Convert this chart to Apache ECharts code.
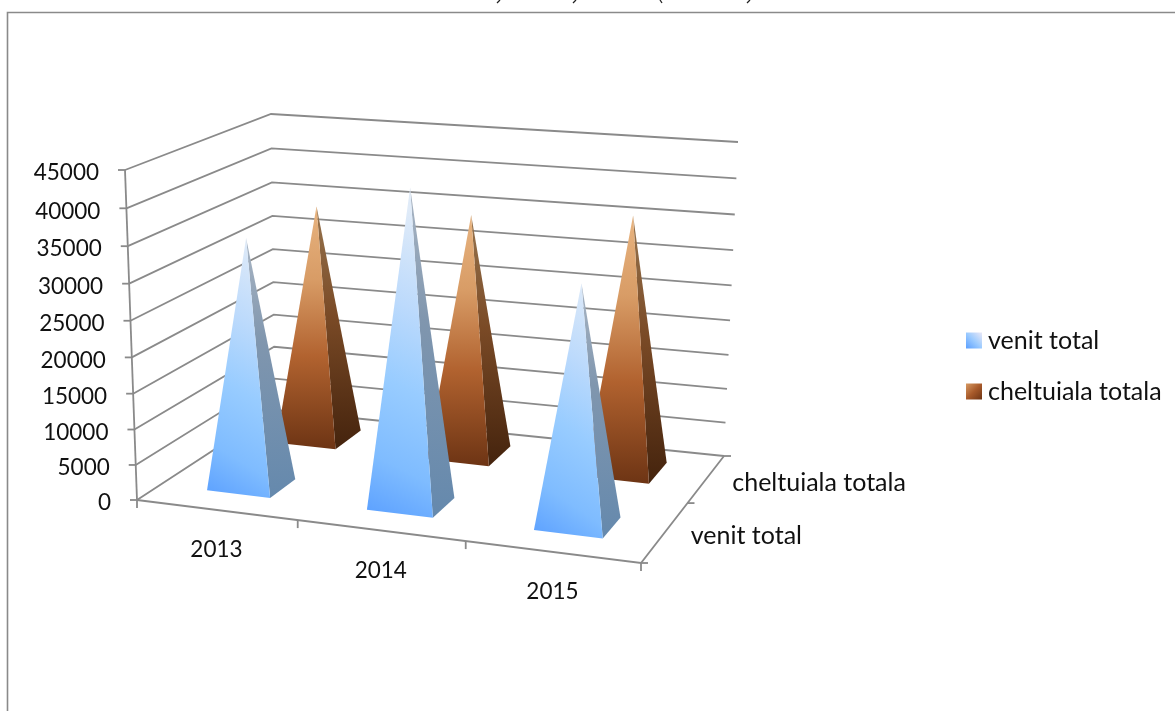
<!DOCTYPE html>
<html><head><meta charset="utf-8">
<style>html,body{margin:0;padding:0;background:#fff}#c{width:1175px;height:711px}</style>
<script src="https://cdn.jsdelivr.net/npm/echarts@6/dist/echarts.min.js"></script>
</head><body><div id="c"></div>
<script>
const years = ['2013', '2014', '2015'];
const depthNames = ['venit total', 'cheltuiala totala'];
const venitTotal = [34700, 43200, 32600];
const cheltuialaTotala = [34300, 34700, 36300];
const yTicks = [0, 5000, 10000, 15000, 20000, 25000, 30000, 35000, 40000, 45000];

const FONT = 'Lato, "Open Sans", sans-serif';
const LINE = '#8a8a8a';
const TXT = '#111';
const DEPTH_CENTRES = [0.27, 0.79];
// box corners of the 3D view: [u][d] floor and top
const F00 = [137, 500], F10 = [641, 563], F01 = [275, 410], F11 = [724, 456];
const T00 = [125, 170], T10 = [648, 213], T01 = [271, 114], T11 = [738, 142];
function mix(a, b, t) { return [a[0] + (b[0] - a[0]) * t, a[1] + (b[1] - a[1]) * t]; }
function project(u0, d, h) {
  const u = u0 * (0.935 + 0.065 * u0);
  const hh = h * (0.95 + 0.05 * h);
  const floor = mix(mix(F00, F10, u), mix(F01, F11, u), d);
  const top = mix(mix(T00, T10, u), mix(T01, T11, u), d);
  return mix(floor, top, hh);
}
function norm(api, cs, cat, val) {
  const p = api.coord([cat, val]);
  return [(p[0] - cs.x) / cs.width, 1 - (p[1] - cs.y) / cs.height];
}
function grad(x1, y1, x2, y2, stops) {
  return new echarts.graphic.LinearGradient(x1, y1, x2, y2, stops.map(c => ({ offset: c[0], color: c[1] })));
}
const lineStyle = { stroke: LINE, lineWidth: 1.8, fill: null };
function polyline(pts) { return { type: 'polyline', shape: { points: pts }, style: lineStyle, silent: true }; }
function label(text, x, y, align, size) {
  return { type: 'text', silent: true, style: { text, x, y, fill: TXT, font: size + 'px ' + FONT, textAlign: align, textVerticalAlign: 'middle' } };
}

const pal = [
  { front: grad(0, 1, 2, 0.2, [[0, '#5a9fff'], [0.2, '#7fbcff'], [0.45, '#98ccff'], [0.7, '#bcdafc'], [1, '#e0ebf8']]),
    side: grad(0, 0, 0.3, 1, [[0, '#aab6c4'], [0.4, '#8096ae'], [1, '#6589ad']]),
    legend: grad(0, 1, 1, 0, [[0, '#5a9fff'], [0.5, '#9ccbff'], [1, '#eae8f6']]) },
  { front: grad(0, 0, 0, 1, [[0, '#e8b480'], [0.3, '#d89c66'], [0.62, '#b1622f'], [1, '#6d3414']]),
    side: grad(0, 0, 0, 1, [[0, '#97754f'], [0.45, '#7a4a26'], [1, '#44230d']]),
    legend: grad(0, 0, 1, 1, [[0, '#d79a63'], [0.5, '#a85a2a'], [1, '#6d3414']]) }
];

function pyramidRender(j) {
  return function (params, api) {
    const cs = params.coordSys;
    const [u, h] = norm(api, cs, api.value(0), api.value(1));
    const du = api.size([1, 0])[0] / cs.width * 0.2;
    const dc = DEPTH_CENTRES[j], dd = 0.1;
    const fl = project(u - du, dc - dd, 0), fr = project(u + du, dc - dd, 0), br = project(u + du, dc + dd, 0);
    const apex = project(u, dc, h);
    return { type: 'group', children: [
      { type: 'polygon', shape: { points: [fr, br, apex] }, style: { fill: pal[j].side } },
      { type: 'polygon', shape: { points: [fl, fr, apex] }, style: { fill: pal[j].front } }
    ] };
  };
}

function wallRender(params, api) {
  const cs = params.coordSys;
  const v = api.value(0);
  const h = norm(api, cs, 0, v)[1];
  const a = project(0, 0, h), b = project(0, 1, h), c = project(1, 1, h);
  const kids = [polyline([a, b, c]), polyline([[a[0] - 7, a[1]], a]), label(String(v), a[0] - 26, a[1] + 3, 'right', 22.5)];
  if (v === 0) {
    const fr = project(1, 0, 0);
    const top = project(0, 0, 1);
    kids.push(polyline([a, top]), polyline([a, fr, c]));
    kids.push(polyline([a, [a[0], a[1] + 8]]), polyline([fr, [fr[0], fr[1] + 8]]));
    kids.push(polyline([fr, [fr[0] + 7, fr[1]]]), polyline([c, [c[0] + 7, c[1]]]));
    const mid = project(1, 0.56, 0);
    kids.push(polyline([mid, [mid[0] + 7, mid[1]]]));
  }
  return { type: 'group', children: kids };
}

function catRender(params, api) {
  const cs = params.coordSys;
  const i = api.value(0);
  const u = norm(api, cs, i, 0)[0];
  const p = project(u, 0, 0);
  const kids = [label(years[i], p[0], p[1] + 40, 'center', 22.5)];
  if (i > 0) {
    const q = project(u - api.size([1, 0])[0] / cs.width / 2, 0, 0);
    kids.push(polyline([q, [q[0], q[1] + 8]]));
  }
  return { type: 'group', children: kids };
}
function depthRender(params, api) {
  const j = api.value(0);
  const p = project(1, (j + 0.5) / 2, 0);
  return label(depthNames[j], p[0] + 29, p[1], 'left', 25);
}

const chart = echarts.init(document.getElementById('c'), null, { renderer: 'canvas' });
chart.setOption({
  animation: false,
  backgroundColor: '#fff',
  grid: { left: 100, right: 100, top: 100, bottom: 100 },
  xAxis: { type: 'category', data: years, show: false },
  yAxis: { type: 'value', min: 0, max: 45000, interval: 5000, show: false },
  legend: {
    orient: 'vertical', left: 961, top: 323, itemWidth: 16, itemHeight: 16, itemGap: 26,
    data: [
      { name: 'venit total', icon: 'rect', itemStyle: { color: pal[0].legend } },
      { name: 'cheltuiala totala', icon: 'rect', itemStyle: { color: pal[1].legend } }
    ],
    textStyle: { fontFamily: FONT, fontSize: 25, color: TXT, padding: [0, 0, 0, 1] }
  },
  graphic: [
    { type: 'polyline', shape: { points: [[7.5, 711], [7.5, 12.5], [1175, 12.5]] }, style: { stroke: LINE, lineWidth: 1.6, fill: null }, silent: true },
    { type: 'polyline', shape: { points: [[500, 0], [497, 3]] }, style: { stroke: '#222', lineWidth: 1.3, fill: null }, silent: true },
    { type: 'polyline', shape: { points: [[576, 0], [573, 3]] }, style: { stroke: '#222', lineWidth: 1.3, fill: null }, silent: true },
    { type: 'polyline', shape: { points: [[660, 0], [662, 3]] }, style: { stroke: '#222', lineWidth: 1.3, fill: null }, silent: true },
    { type: 'polyline', shape: { points: [[750, 0], [747, 3]] }, style: { stroke: '#222', lineWidth: 1.3, fill: null }, silent: true }
  ],
  series: [
    { type: 'custom', name: 'walls', silent: true, clip: false, z: 1, renderItem: wallRender, encode: { y: 0 }, data: yTicks.map(v => [v]) },
    { type: 'custom', name: 'cats', silent: true, clip: false, z: 1, renderItem: catRender, encode: { x: 0 }, data: years.map((y, i) => [i]) },
    { type: 'custom', name: 'depths', silent: true, clip: false, z: 1, renderItem: depthRender, data: depthNames.map((n, j) => [j]) },
    { type: 'custom', name: 'cheltuiala totala', clip: false, z: 2, renderItem: pyramidRender(1), encode: { x: 0, y: 1 }, itemStyle: { color: '#a85a2a' }, data: cheltuialaTotala.map((v, i) => [i, v]) },
    { type: 'custom', name: 'venit total', clip: false, z: 3, renderItem: pyramidRender(0), encode: { x: 0, y: 1 }, itemStyle: { color: '#88c5ff' }, data: venitTotal.map((v, i) => [i, v]) }
  ]
});
</script></body></html>
